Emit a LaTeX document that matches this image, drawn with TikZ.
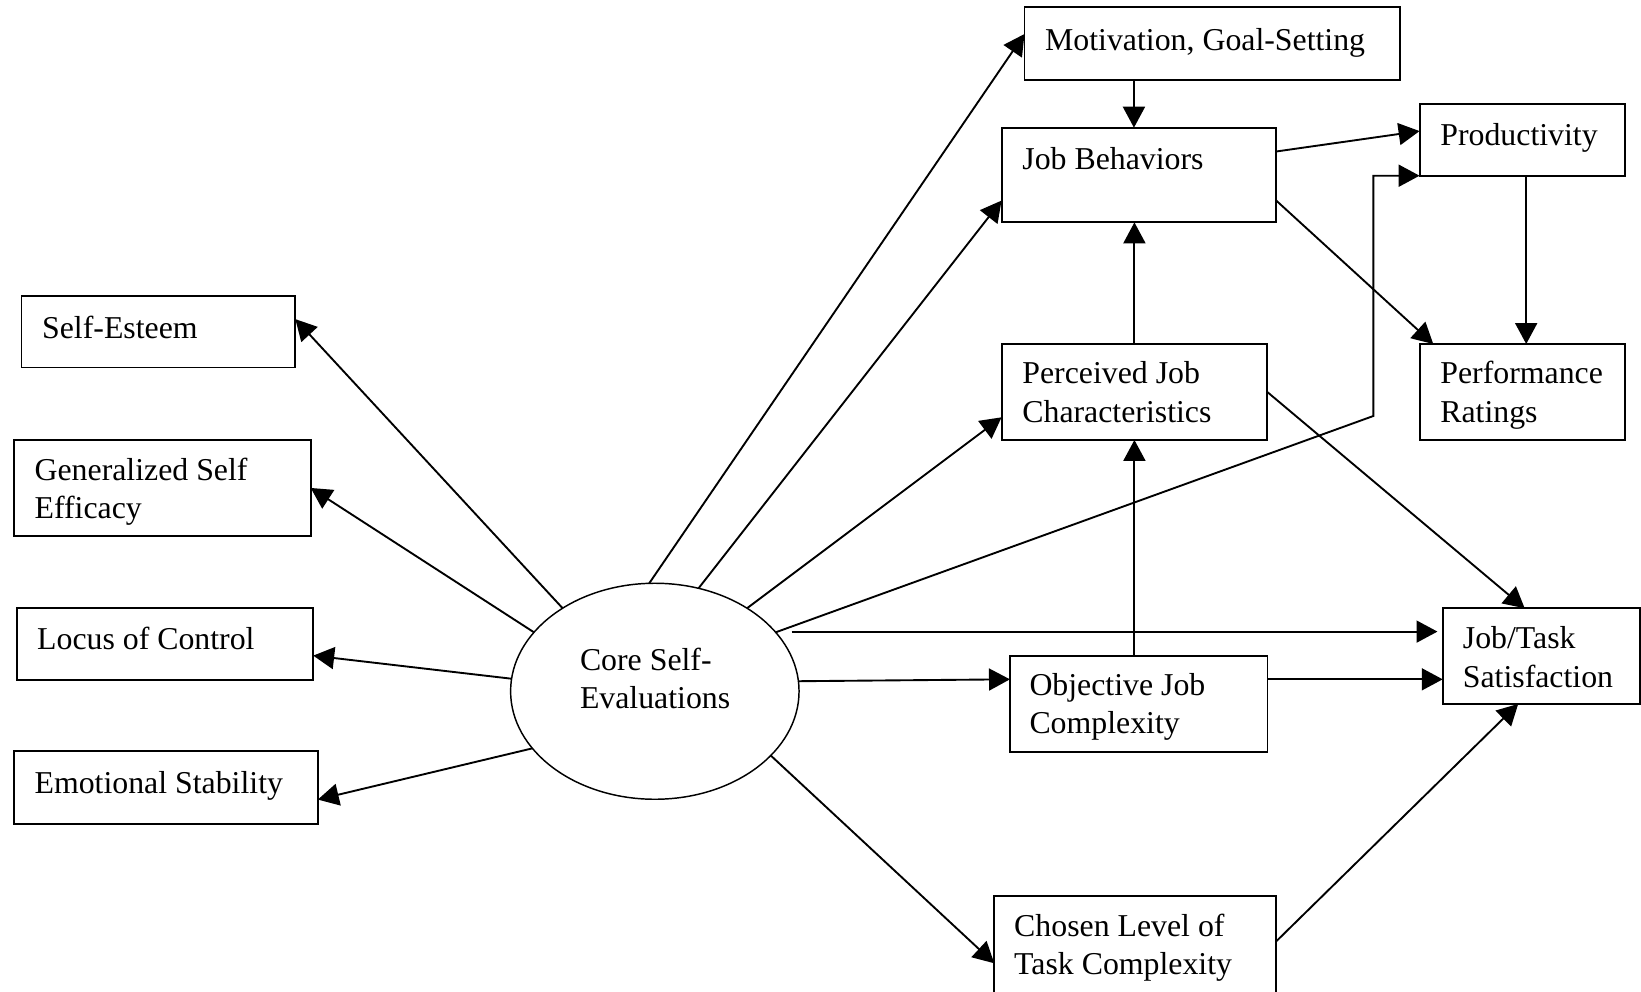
\documentclass[tikz,border=0pt]{standalone}
\usepackage{fontspec}
\setmainfont{Liberation Serif}
\usetikzlibrary{arrows.meta,shapes.geometric,calc}
\begin{document}
\begin{tikzpicture}[x=0.5pt,y=-0.5pt,
  box/.style={draw, line width=0.9pt, rectangle, inner sep=0pt, outer sep=0pt, anchor=north west},
  lbl/.style={anchor=base west, inner sep=0pt, outer sep=0pt, align=left, yshift=-1pt, font=\fontsize{15.2}{18.25}\selectfont},
  arr/.style={line width=0.9pt, -{Triangle[length=10pt,width=10.5pt]}}]
\useasboundingbox (0,0) rectangle (1568,947);
\clip (0,0) rectangle (1568,947);

% boxes
\node[box, minimum width=130.85pt, minimum height=34.15pt] (se)  at (20.5,282.8) {};
\node[box, minimum width=141.95pt, minimum height=45.85pt] (gse) at (13,420.4) {};
\node[box, minimum width=141.65pt, minimum height=34.45pt] (loc) at (16,580.8) {};
\node[box, minimum width=145.35pt, minimum height=34.6pt]  (es)  at (13,718) {};
\node[box, minimum width=179.45pt, minimum height=34.7pt]  (mot) at (978.9,7) {};
\node[box, minimum width=130.9pt,  minimum height=45.25pt] (jb)  at (957,122) {};
\node[box, minimum width=98.2pt,   minimum height=34.25pt] (prod) at (1356.4,99.4) {};
\node[box, minimum width=126.95pt, minimum height=45.85pt] (pjc) at (957,328.7) {};
\node[box, minimum width=98.2pt,   minimum height=45.85pt] (pr)  at (1356.4,328.7) {};
\node[box, minimum width=94.15pt,  minimum height=45.7pt]  (jts) at (1378.5,581.2) {};
\node[box, minimum width=123.05pt, minimum height=45.7pt]  (ojc) at (965,626.8) {};
\node[box, minimum width=134.6pt,  minimum height=50pt]    (clt) at (950,855.8) {};
\node[draw, ellipse, line width=0.7pt, minimum width=137.8pt, minimum height=103.2pt, inner sep=0pt, outer sep=0pt] (cse) at (625.7,660.5) {};

% texts (base = baseline of last line)
\node[lbl] (tse)  at (40.3,321)   {Self-Esteem};
\node[lbl] (tgse) at (33.1,493.4) {Generalized Self\\Efficacy};
\node[lbl] (tloc) at (35.5,619)   {Locus of Control};
\node[lbl] (tes)  at (33.1,756.2) {Emotional Stability};
\node[lbl] (tmot) at (998.7,46.2) {Motivation, Goal-Setting};
\node[lbl] (tjb)  at (976.9,160) {Job Behaviors};
\node[lbl] (tprod) at (1376.3,137) {Productivity};
\node[lbl] (tpjc) at (976.9,401.3) {Perceived Job\\Characteristics};
\node[lbl] (tpr)  at (1376.3,401.3) {Performance\\Ratings};
\node[lbl] (tjts) at (1397.8,654.5) {Job/Task\\Satisfaction};
\node[lbl] (tojc) at (983.7,699.1) {Objective Job\\Complexity};
\node[lbl] (tclt) at (969.1,929) {Chosen Level of\\Task Complexity};
\node[lbl] (tcse) at (554.2,675.2) {Core Self-\\Evaluations};

% connectors
\draw[arr] (cse.138.1) -- ([yshift=6pt]se.east);
\draw[arr] (cse.154.2) -- (gse.east);
\draw[arr] (cse.175.6) -- ([yshift=-5.6pt]loc.east);
\draw[arr] (cse.205.9) -- ([yshift=-5.7pt]es.east);
\draw[arr] (cse.93.4) -- ([yshift=4.6pt]mot.west);
\draw[arr] (cse.67.3) -- ([yshift=-12.2pt]jb.west);
\draw[arr] (cse.42.7) -- ([yshift=-12.1pt]pjc.west);
\coordinate (elb) at (1312.2,397.5);
\draw[arr] (cse.26.8) -- (elb) |- (prod.south west);
\coordinate (hs) at ($(cse.center)+(130.7,-57)$);
\draw[arr, shorten >=2.5pt] (hs) -- (hs -| jts.west);
\draw[arr] (cse.4.8) -- ([yshift=11.7pt]ojc.west);
\draw[arr] ([yshift=11.7pt]ojc.east) -- ([yshift=11.7pt]ojc.east -| jts.west);
\draw[arr] (cse.331.8) -- ([yshift=-32.3pt]clt.north west);
\draw[arr] ([yshift=-21.95pt]clt.north east) -- ([xshift=-11pt]jts.south);
\draw[arr] ([xshift=-2.2pt]jb.north |- mot.south) -- ([xshift=-2.2pt]jb.north);
\draw[arr] (pjc.north) -- (pjc.north |- jb.south);
\draw[arr] (pjc.south |- ojc.north) -- (pjc.south);
\draw[arr] ([yshift=11.2pt]jb.east) -- ([yshift=4.2pt]prod.west);
\draw[arr] ([yshift=-11.9pt]jb.east) -- ([xshift=6.55pt]pr.north west);
\draw[arr] ([xshift=1.85pt]prod.south) -- ([xshift=1.85pt]pr.north);
\draw[arr] (pjc.east) -- ([xshift=-7.9pt]jts.north);
\end{tikzpicture}
\end{document}
